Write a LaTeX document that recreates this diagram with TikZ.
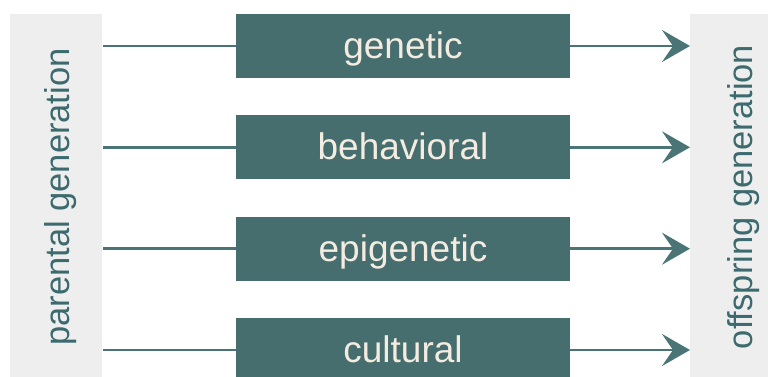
\documentclass[tikz,border=0pt]{standalone}
\usepackage{fontspec}
\setmainfont{Liberation Sans}
\usetikzlibrary{arrows.meta}

\definecolor{boxteal}{HTML}{466E6F}
\definecolor{linkteal}{HTML}{4A7475}
\definecolor{cream}{HTML}{F4ECE0}
\definecolor{sidegray}{HTML}{EEEEEE}
\definecolor{sidetext}{HTML}{3C6A6E}

\begin{document}
\begin{tikzpicture}[x=1pt,y=-1pt,
  channel/.style={fill=boxteal, text=cream, minimum width=334pt, minimum height=64pt,
    inner sep=0pt, text height=30pt, text depth=5pt, font=\fontsize{37}{40}\selectfont},
  genbox/.style={fill=sidegray, inner sep=0pt, minimum width=92pt, minimum height=380pt,
    anchor=north west},
  genlabel/.style={rotate=90, text=sidetext, font=\fontsize{34.5}{40}\selectfont,
    inner sep=0pt, anchor=base},
  link/.style={draw=linkteal, line width=2.5pt},
  arrowlink/.style={link, -{Stealth[length=28pt, width=32pt, inset=11pt]}},
  ]
  \useasboundingbox (0,0) rectangle (768,377);
  \clip (0,0) rectangle (768,377);

  % generation panels on both sides
  \node[genbox] (parent) at (10,14) {};
  \node[genbox] (offspring) at (690,14) {};
  \node[genlabel] (parentlabel) at (69,197) {parental generation};
  \node[genlabel] (offspringlabel) at (752,197) {offspring generation};

  % inheritance channels
  \node[channel] (genetic)     at (403,46)    {genetic};
  \node[channel] (behavioral)  at (403,147.3) {behavioral};
  \node[channel] (epigenetic)  at (403,248.7) {epigenetic};
  \node[channel] (cultural)    at (403,350)   {cultural};

  % connectors from parents through each channel to offspring
  \foreach \ch in {genetic,behavioral,epigenetic,cultural}{
    \draw[link, shorten <=1pt] (parent.east |- \ch.west) -- (\ch.west);
    \draw[arrowlink] (\ch.east) -- (\ch.east -| offspring.west);
  }
\end{tikzpicture}
\end{document}
